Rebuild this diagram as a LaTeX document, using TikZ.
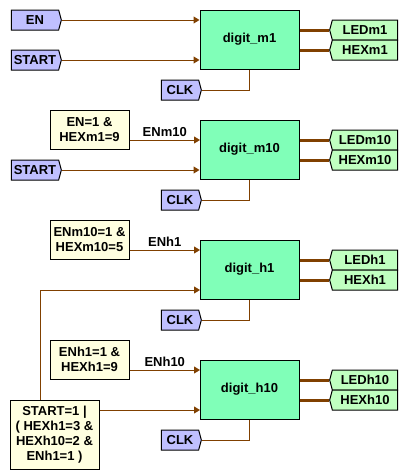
\documentclass[tikz,border=0pt]{standalone}
\usepackage{fontspec}
\setmainfont{Liberation Sans}
\usetikzlibrary{shapes.symbols,arrows.meta}
\definecolor{wirec}{HTML}{804000}
\definecolor{blockg}{HTML}{80FFB8}
\definecolor{inlav}{HTML}{BFBFFF}
\definecolor{outg}{HTML}{C0FFC0}
\definecolor{condy}{HTML}{FFFFE0}
\begin{document}
\begin{tikzpicture}[x=1pt,y=-1pt,
  font=\fontsize{13}{15}\selectfont\bfseries,
  block/.style={draw=black, fill=blockg, line width=1pt, minimum width=99pt, minimum height=59pt, inner sep=0pt},
  intag/.style={shape=signal, signal to=east, signal pointer angle=150, draw=black, fill=inlav, line width=1pt, minimum height=20pt, inner sep=0pt},
  outtag/.style={shape=signal, signal to=west, signal pointer angle=150, draw=black, fill=outg, line width=1pt, minimum width=68pt, minimum height=20pt, inner sep=0pt},
  cond/.style={draw=black, fill=condy, line width=1pt, align=center, inner sep=0pt, minimum width=79pt, minimum height=39pt},
  wire/.style={draw=wirec, line width=1pt},
  arr/.style={wire, -{Triangle[length=6pt,width=7pt]}},
  bus/.style={draw=wirec, line width=3pt}]
\useasboundingbox (0,0) rectangle (410,474);

% blocks
\node[block] (b1) at (249.5,39.5) {digit\_m1};
\node[block] (b2) at (249.5,149.5) {digit\_m10};
\node[block] (b3) at (249.5,269.5) {digit\_h1};
\node[block] (b4) at (249.5,389.5) {digit\_h10};

% input tags
\node[intag, minimum width=50pt] (en1) at (35,20) {EN};
\node[intag, minimum width=50pt] (st1) at (35,60) {START};
\node[intag, minimum width=50pt] (st2) at (35,170) {START};
\node[intag, minimum width=40pt] (clk1) at (180,90) {CLK};
\node[intag, minimum width=40pt] (clk2) at (180,200) {CLK};
\node[intag, minimum width=40pt] (clk3) at (180,320) {CLK};
\node[intag, minimum width=40pt] (clk4) at (180,440) {CLK};

% output tags
\node[outtag] (led1) at (365,30) {LEDm1};
\node[outtag] (hex1) at (365,50) {HEXm1};
\node[outtag] (led2) at (365,140) {LEDm10};
\node[outtag] (hex2) at (365,160) {HEXm10};
\node[outtag] (led3) at (365,260) {LEDh1};
\node[outtag] (hex3) at (365,280) {HEXh1};
\node[outtag] (led4) at (365,380) {LEDh10};
\node[outtag] (hex4) at (365,400) {HEXh10};

% condition boxes
\node[cond] (c2) at (89.5,129.5) {EN=1 \&\\HEXm1=9};
\node[cond] (c3) at (89.5,239.5) {ENm10=1 \&\\HEXm10=5};
\node[cond] (c4) at (89.5,359.5) {ENh1=1 \&\\HEXh1=9};
\node[cond, minimum width=89pt, minimum height=69pt] (cs) at (54.5,434.5) {START=1 |\\( HEXh1=3 \&\\HEXh10=2 \&\\ENh1=1 )};

% input points
\coordinate (b2i1) at (200,140);
\coordinate (b3i1) at (200,250);
\coordinate (b3i2) at (200,290);
\coordinate (b4i1) at (200,370);
\coordinate (b4i2) at (200,410);
\coordinate (turn) at (40,290);

% wires block 1
\draw[arr] (en1.east) -- (en1.east -| b1.west);
\draw[arr] (st1.east) -- (st1.east -| b1.west);
\draw[wire] (clk1.east) -| (b1.south);
% block 2
\draw[arr] (c2.east |- b2i1) -- node[midway, above] {ENm10} (b2i1);
\draw[arr] (st2.east) -- (st2.east -| b2.west);
\draw[wire] (clk2.east) -| (b2.south);
% block 3
\draw[arr] (c3.east |- b3i1) -- node[midway, above] {ENh1} (b3i1);
\draw[arr] (cs.north -| turn) -- (turn) -- (b3i2);
\draw[wire] (clk3.east) -| (b3.south);
% block 4
\draw[arr] (c4.east |- b4i1) -- node[midway, above] {ENh10} (b4i1);
\draw[arr] (cs.east |- b4i2) -- (b4i2);
\draw[wire] (clk4.east) -| (b4.south);

% buses
\foreach \b/\l/\h in {b1/led1/hex1, b2/led2/hex2, b3/led3/hex3, b4/led4/hex4}{
  \draw[bus] (\b.east |- \l.west) -- (\l.west);
  \draw[bus] (\b.east |- \h.west) -- (\h.west);
}
\end{tikzpicture}
\end{document}
